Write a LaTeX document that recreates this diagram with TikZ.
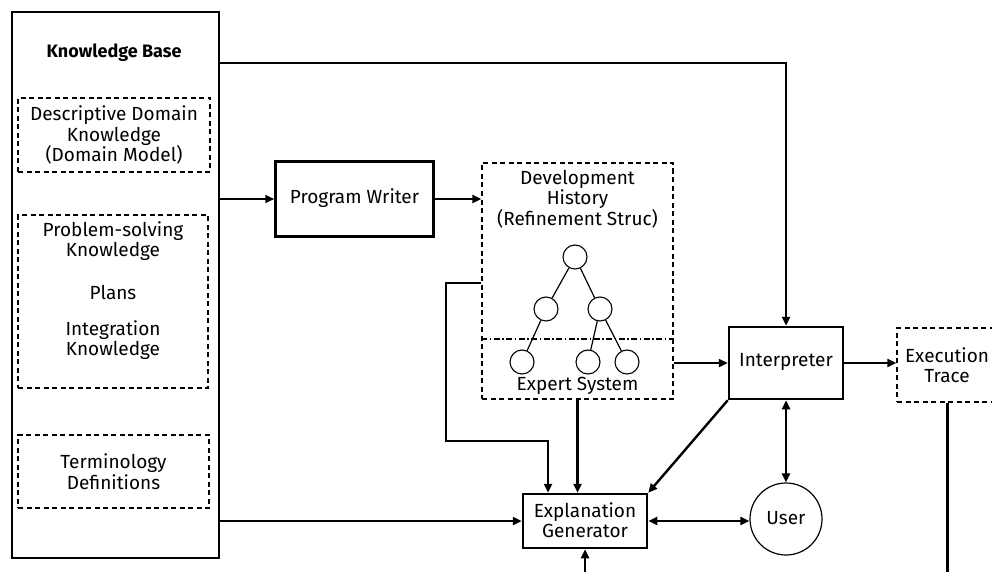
\documentclass[tikz,border=0pt]{standalone}
\usepackage{fontspec}
\setmainfont{Fira Sans}
\usetikzlibrary{arrows.meta}
\begin{document}
\begin{tikzpicture}[x=1pt,y=-1pt,
  txt/.style={font=\fontsize{19}{20.5}\selectfont, align=center, inner sep=0pt},
  solidbox/.style={draw, line width=2.5pt, inner sep=0pt},
  dashbox/.style={draw, line width=1.4pt, dash pattern=on 5pt off 3.5pt, inner sep=0pt},
  treenode/.style={draw, circle, line width=1.1pt, minimum size=24pt, inner sep=0pt},
  treeedge/.style={line width=1.2pt},
  conn/.style={line width=2.4pt},
  arr/.style={conn, -{Triangle[length=9pt,width=8pt]}},
  darr/.style={conn, {Triangle[length=9pt,width=8pt]}-{Triangle[length=9pt,width=8pt]}}]
\useasboundingbox (0,0) rectangle (992,572);
\clip (0,0) rectangle (992,572);

% Knowledge base and its compartments
\node[solidbox, minimum width=207pt, minimum height=546pt] (kb) at (115.5,285) {};
\node[txt, font=\fontsize{18}{20.5}\selectfont\bfseries] (kbtitle) at (114,53) {Knowledge Base};
\node[dashbox, minimum width=192pt, minimum height=74pt] (dd) at (114,135) {};
\node[txt] (ddtext) at (114,135) {Descriptive Domain\\Knowledge\\(Domain Model)};
\node[dashbox, minimum width=190pt, minimum height=173pt] (ps) at (113,301.5) {};
\node[txt] (pstext) at (113,241) {Problem-solving\\Knowledge};
\node[txt] (plans) at (113,292) {Plans};
\node[txt] (integ) at (113,340) {Integration\\Knowledge};
\node[dashbox, minimum width=191pt, minimum height=73pt] (term) at (113.5,471.5) {};
\node[txt] (termtext) at (113.5,471.5) {Terminology\\Definitions};

% Program writer
\node[solidbox, minimum width=158pt, minimum height=75pt] (pw) at (354.5,199) {};
\node[txt] (pwtext) at (354.5,198) {Program Writer};

% Development history with refinement tree
\node[dashbox, minimum width=191pt, minimum height=236pt] (dh) at (577.5,281) {};
\node[txt] (dhtext) at (577.5,199) {Development\\History\\(Refinement Struc)};
\draw[line width=1.2pt, dash pattern=on 6pt off 2.5pt on 1.5pt off 2.5pt] (dh.west |- 0,339) coordinate (esl) -- (dh.east |- 0,339) coordinate (esr);
\node[txt] (estext) at (577.5,386) {Expert System};
\node[treenode] (t0) at (575,257) {};
\node[treenode] (t1) at (546,309) {};
\node[treenode] (t2) at (600,309) {};
\node[treenode] (t3) at (522,362) {};
\node[treenode] (t4) at (588,362) {};
\node[treenode] (t5) at (627,362) {};
\draw[treeedge] (t0) -- (t1);
\draw[treeedge] (t0) -- (t2);
\draw[treeedge] (t1) -- (t3);
\draw[treeedge] (t2) -- (t4);
\draw[treeedge] (t2) -- (t5);

% Interpreter, execution trace, explanation generator, user
\node[solidbox, minimum width=114pt, minimum height=72pt] (interp) at (786,363) {};
\node[txt] (interptext) at (786,362) {Interpreter};
\node[dashbox, minimum width=101pt, minimum height=74pt] (et) at (947.5,365) {};
\node[txt] (ettext) at (947,365) {Execution\\Trace};
\node[solidbox, minimum width=124pt, minimum height=54pt] (eg) at (585,521) {};
\node[txt] (egtext) at (585,520) {Explanation\\Generator};
\node[draw, circle, line width=1.2pt, minimum size=72pt, inner sep=0pt] (user) at (786,519) {};
\node[txt] (usertext) at (786,518) {User};

% Connectors
\draw[arr] (kb.east |- 0,63) -| (interp.north);
\draw[arr] (kb.east |- pw.west) -- (pw.west);
\draw[arr] (pw.east) -- (pw.east -| dh.west);
\draw[arr] (dh.west |- 0,283) -- (446,283) -- (446,441) -| ([xshift=-37pt]eg.north);
\draw[arr] (dh.south) -- (dh.south |- eg.north);
\draw[arr] (kb.east |- eg.west) -- (eg.west);
\draw[arr] (dh.east |- interp.west) -- (interp.west);
\draw[arr] (interp.east) -- (interp.east -| et.west);
\draw[arr] (interp.south west) -- (eg.north east);
\draw[darr] (interp.south) -- (user.north);
\draw[darr] (eg.east) -- (eg.east -| user.west);
\draw[arr] (et.south) -- (et.south |- 0,573) -| (eg.south);
\end{tikzpicture}
\end{document}
